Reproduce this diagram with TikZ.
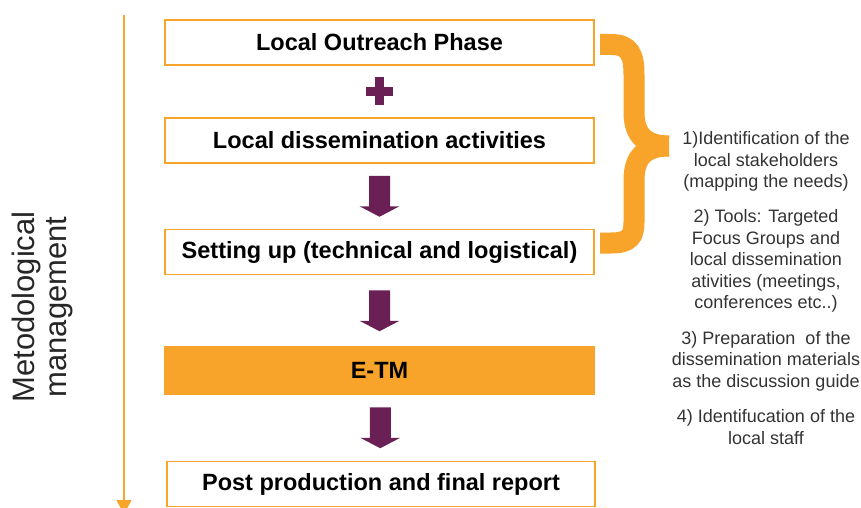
\documentclass[tikz,border=0pt]{standalone}
\usepackage{fontspec}
\setmainfont{Liberation Sans}
\usetikzlibrary{calc, arrows.meta}
\definecolor{etmorange}{HTML}{F8A42A}
\definecolor{etmpurple}{HTML}{6A1F55}
\tikzset{%
  x=1pt, y=-1pt,
  % boxes of the phases
  phasebox/.style={rectangle, draw=etmorange, line width=1.5pt, fill=white,
    minimum width=429pt, minimum height=45pt, inner sep=0pt,
    font=\fontsize{23.5}{28}\selectfont\bfseries},
  etmbox/.style={phasebox, fill=etmorange, minimum height=47pt},
  % notes on the right of the brace
  note/.style={align=center, inner sep=0pt, text=black!80,
    font=\fontsize{18}{21.5}\selectfont},
  bracestroke/.style={draw=etmorange, line width=21pt, line cap=butt},
  timeline/.style={draw=etmorange, line width=1.8pt, -{Triangle[width=15pt, length=14pt]}},
  % purple block arrow between two boxes
  phasearrow/.pic={
    \fill[etmpurple] (-10.5,-20.5) -- (10.5,-20.5) -- (10.5,10) -- (20,10)
      -- (0,20.5) -- (-20,10) -- (-10.5,10) -- cycle;
  },
  plussign/.pic={
    \draw[etmpurple, line width=9pt] (-13.5,0) -- (13.5,0) (0,-14) -- (0,14);
  }
}
\begin{document}
\begin{tikzpicture}
  \useasboundingbox (0,0) rectangle (861,508);

  % time axis on the left
  \coordinate (tstart) at (124,15);
  \coordinate (tend) at (124,514);
  \draw[timeline] (tstart) -- (tend);
  \node[rotate=90, align=center, text=black!85,
    font=\fontsize{31}{32}\selectfont] (mgmt) at (42,307) {Metodological\\management};

  % phases
  \node[phasebox] (outreach) at (379.5,42.5) {Local Outreach Phase};
  \node[phasebox] (dissem) at (379.5,140.5) {Local dissemination activities};
  \node[phasebox] (setup) at (379.5,252) {Setting up (technical and logistical)};
  \node[etmbox] (etm) at (379.5,370.5) {E-TM};
  \node[phasebox, minimum width=428pt] (post) at (381,484) {Post production and final report};

  \pic at ($(outreach.south)!0.5!(dissem.north)$) {plussign};
  \pic at ($(dissem.south)!0.5!(setup.north)$) {phasearrow};
  \pic at ($(setup.south)!0.5!(etm.north)$) {phasearrow};
  \pic at ($(etm.south)!0.5!(post.north)$) {phasearrow};

  % brace over the first three phases
  \draw[bracestroke] (600,44.5) -- (611,44.5) .. controls (630,44.5) and (634,55) .. (634,75)
    -- (634,112) .. controls (634,135) and (645,146) .. (669,146);
  \draw[bracestroke] (669,146) .. controls (645,146) and (634,157) .. (634,180)
    -- (634,222) .. controls (634,236) and (630,243) .. (611,243) -- (600,243);

  % notes
  \node[note] (note1) at (766,161.5) {1)Identification of the\\local stakeholders\\(mapping the needs)};
  \node[note] (note2) at (766,261) {2) Tools: Targeted\\Focus Groups and\\local dissemination\\ativities (meetings,\\conferences etc..)};
  \node[note] (note3) at (766,361) {3) Preparation\ \ of the\\dissemination materials\\as the discussion guide};
  \node[note] (note4) at (766,427) {4) Identifucation of the\\local staff};
\end{tikzpicture}
\end{document}
